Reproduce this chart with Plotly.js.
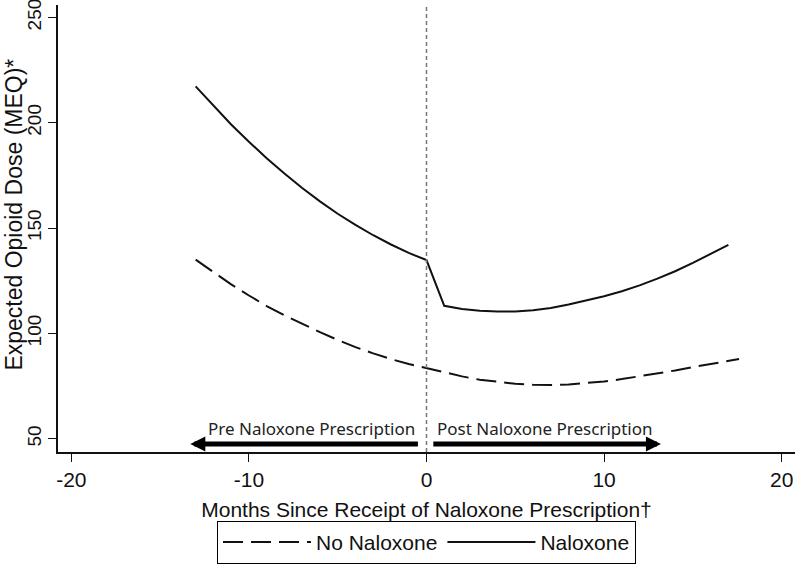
<!DOCTYPE html>
<html>
<head>
<meta charset="utf-8">
<script src="https://cdn.plot.ly/plotly-3.0.1.min.js"></script>
<style>
  html, body { margin: 0; padding: 0; background: #fff; }
  #myDiv { width: 800px; height: 569px; }
</style>
</head>
<body>
<div id="myDiv"></div>
<script>
// Months relative to naloxone prescription
const monthsNaloxone = [-13, -12, -11, -10, -9, -8, -7, -6, -5, -4, -3, -2, -1, 0,
  1, 2, 3, 4, 5, 6, 7, 8, 9, 10, 11, 12, 13, 14, 15, 16, 17];
const monthsNoNaloxone = [-13, -12, -11, -10, -9, -8, -7, -6, -5, -4, -3, -2, -1, 0,
  1, 2, 3, 4, 5, 6, 7, 8, 9, 10, 11, 12, 13, 14, 15, 16, 17, 17.6];

// Expected opioid dose (MEQ)
const doseNaloxone = [217.3, 208.0, 199.2, 191.0, 183.2, 175.9, 169.0, 162.7, 156.8, 151.5, 146.6, 142.2, 138.2, 134.8,
  113.1, 111.6, 110.8, 110.4, 110.4, 111.0, 112.1, 113.7, 115.6, 117.6, 120.0, 122.8, 126.0, 129.5, 133.5, 137.7, 142.0];
const doseNoNaloxone = [135.0, 129.0, 123.3, 118.0, 113.0, 108.6, 104.5, 100.6, 96.9, 93.5, 90.5, 87.8, 85.5, 83.6,
  81.4, 79.6, 78.0, 76.9, 76.1, 75.6, 75.5, 75.8, 76.4, 77.2, 78.3, 79.6, 80.9, 82.4, 84.0, 85.6, 87.0, 87.8];

const xTicks = [-20, -10, 0, 10, 20];
const xTickText = ['-20', '-10', '0', '10', '20'];
const yTicks = [50, 100, 150, 200, 250];

const arrowY = 47.5;
const preArrow = { from: -0.4, to: -13.3, label: 'Pre Naloxone Prescription', labelX: -6.5 };
const postArrow = { from: 0.3, to: 13.2, label: 'Post Naloxone Prescription', labelX: 6.7 };

const data = [
  {
    x: monthsNoNaloxone,
    y: doseNoNaloxone,
    type: 'scatter',
    mode: 'lines',
    name: 'No Naloxone',
    line: { color: '#111', width: 2, dash: '20px,8px' },
  },
  {
    x: monthsNaloxone,
    y: doseNaloxone,
    type: 'scatter',
    mode: 'lines',
    name: 'Naloxone',
    line: { color: '#111', width: 2 },
  },
];

const baseFont = { family: 'Liberation Sans, Arial, sans-serif', size: 21, color: '#111' };
const vertFont = { family: 'Liberation Sans, Arial, sans-serif', size: 19, color: '#111' };
const noteFont = { family: 'Noto Sans, sans-serif', size: 17, color: '#222' };

const annotations = [
  {
    xref: 'paper', yref: 'paper', x: -0.059, y: 0.53,
    text: 'Expected Opioid Dose (MEQ)*', textangle: -90,
    showarrow: false, font: { ...vertFont, size: 23 }, xanchor: 'center', yanchor: 'middle',
  },
];
[preArrow, postArrow].forEach(a => {
  annotations.push({
    x: a.to, y: arrowY, ax: a.from, ay: arrowY,
    xref: 'x', yref: 'y', axref: 'x', ayref: 'y',
    text: '', showarrow: true, arrowhead: 2, arrowsize: 0.6, arrowwidth: 5, arrowcolor: '#000',
  });
  annotations.push({
    x: a.labelX, y: arrowY, xref: 'x', yref: 'y', yanchor: 'bottom', yshift: 2,
    text: a.label, showarrow: false, font: noteFont,
  });
});

const layout = {
  width: 800,
  height: 569,
  margin: { l: 58, r: 5, t: 5, b: 112 },
  paper_bgcolor: '#fff',
  plot_bgcolor: '#fff',
  font: baseFont,
  showlegend: true,
  xaxis: {
    range: [-20.75, 20.75],
    tickvals: xTicks,
    ticktext: xTickText,
    ticks: 'outside', ticklen: 8, tickcolor: '#111',
    showline: true, linecolor: '#111', linewidth: 1.5,
    showgrid: false, zeroline: false,
    title: { text: 'Months Since Receipt of Naloxone Prescription†', font: baseFont, standoff: 12 },
  },
  yaxis: {
    range: [43.7, 255.9],
    tickvals: yTicks,
    tickangle: -90,
    tickfont: vertFont,
    ticklabeloverflow: 'allow',
    ticks: 'outside', ticklen: 8, tickcolor: '#111',
    showline: true, linecolor: '#111', linewidth: 1.5,
    showgrid: false, zeroline: false,
  },
  legend: {
    orientation: 'h',
    x: 0.5, xanchor: 'center',
    y: -0.154, yanchor: 'top',
    bordercolor: '#000', borderwidth: 1,
    itemwidth: 88,
    font: baseFont,
  },
  shapes: [
    {
      type: 'line', xref: 'x', yref: 'paper', x0: 0, x1: 0, y0: 0, y1: 1,
      line: { color: '#777', width: 1.5, dash: '4px,3px' },
    },
  ],
  annotations: annotations,
};

Plotly.newPlot('myDiv', data, layout, { displayModeBar: false });
</script>
</body>
</html>
